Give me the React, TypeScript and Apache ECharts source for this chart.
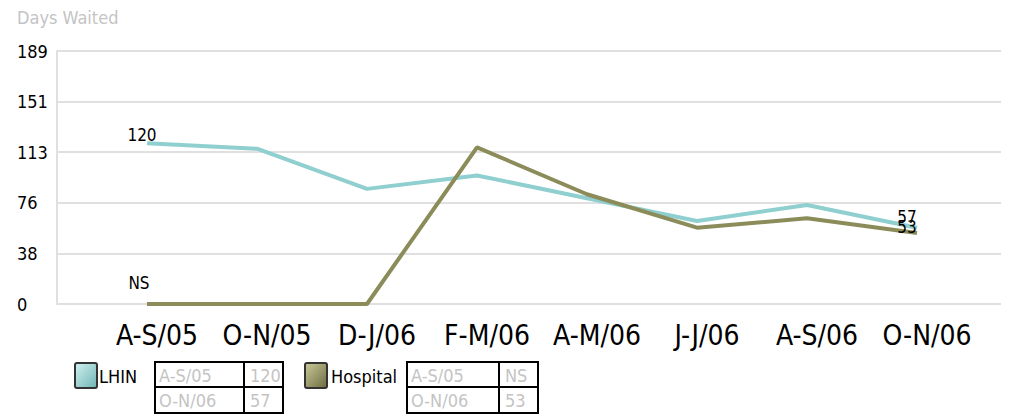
import React, { useEffect, useRef } from "react";
import * as echarts from "echarts";

const categories = ["A-S/05", "O-N/05", "D-J/06", "F-M/06", "A-M/06", "J-J/06", "A-S/06", "O-N/06"];
const lhinValues = [120, 116, 86, 96, 79, 62, 74, 57];
const hospitalValues = [0, 0, 0, 117, 82, 57, 64, 53];
const hospitalFlags = ["NS", "NS", "NS", "", "", "", "", ""];
const yTicks = [0, 38, 76, 113, 151, 189];
const yMax = 189;

const FONT = "'DejaVu Sans Condensed', 'DejaVu Sans', sans-serif";
const LHIN_COLOR = "#8fcfcf";
const HOSP_COLOR = "#8c8c5a";

function labelFor(values: number[], flags: string[] | null, i: number): string {
  if (flags && flags[i]) return flags[i];
  return String(values[i]);
}

function makeTable(x: number, cat0: string, v0: string, cat1: string, v1: string, divX: number, w: number) {
  const y = 362;
  const h = 51;
  const gray = "#c4c4c4";
  return [
    { type: "rect", shape: { x, y, width: w, height: h }, style: { fill: "none", stroke: "#000", lineWidth: 2 } },
    { type: "line", shape: { x1: divX, y1: y, x2: divX, y2: y + h }, style: { stroke: "#000", lineWidth: 2 } },
    { type: "line", shape: { x1: x, y1: y + 25, x2: x + w, y2: y + 25 }, style: { stroke: "#000", lineWidth: 2 } },
    { type: "text", x: x + 4, y: y + 13, style: { text: cat0, fill: gray, font: `18px ${FONT}`, textVerticalAlign: "middle" } },
    { type: "text", x: divX + 6, y: y + 13, style: { text: v0, fill: gray, font: `18px ${FONT}`, textVerticalAlign: "middle" } },
    { type: "text", x: x + 4, y: y + 38, style: { text: cat1, fill: gray, font: `18px ${FONT}`, textVerticalAlign: "middle" } },
    { type: "text", x: divX + 6, y: y + 38, style: { text: v1, fill: gray, font: `18px ${FONT}`, textVerticalAlign: "middle" } },
  ];
}

export default function App() {
  const ref = useRef<HTMLDivElement>(null);
  useEffect(() => {
    if (!ref.current) return;
    const chart = echarts.init(ref.current, null, { renderer: "svg" });
    const last = categories.length - 1;

    const lblStyle = { show: true, color: "#000", fontSize: 17, fontFamily: FONT };
    const lhinData = lhinValues.map((v, i) => {
      if (i === 0) return { value: v, label: { ...lblStyle, position: "top", distance: 0, offset: [-5, 0], formatter: labelFor(lhinValues, null, i) } };
      if (i === last) return { value: v, label: { ...lblStyle, position: "top", distance: 2, offset: [-10, 0], formatter: labelFor(lhinValues, null, i) } };
      return v;
    });
    const hospData = hospitalValues.map((v, i) => {
      if (i === 0) return { value: v, label: { ...lblStyle, position: "top", distance: 12, offset: [-8, 0], formatter: labelFor(hospitalValues, hospitalFlags, i) } };
      if (i === last) return { value: v, label: { ...lblStyle, position: "top", distance: 0, offset: [-10, 2], formatter: labelFor(hospitalValues, hospitalFlags, i) } };
      return v;
    });

    const option: any = {
      animation: false,
      backgroundColor: "#fff",
      textStyle: { fontFamily: FONT },
      grid: [
        { left: 57, right: 0, top: 51, bottom: 112 },
        { left: 147, right: 92, top: 51, bottom: 112 },
      ],
      xAxis: [
        { gridIndex: 0, type: "value", min: 0, max: 1, show: false },
        {
          gridIndex: 1,
          type: "category",
          boundaryGap: false,
          data: categories,
          axisLine: { show: false },
          axisTick: { show: false },
          axisLabel: { color: "#000", fontSize: 28, fontFamily: FONT, margin: 17, padding: [0, 0, 0, 20], interval: 0 },
        },
      ],
      yAxis: [
        {
          gridIndex: 0,
          type: "value",
          min: 0,
          max: yMax,
          interval: yMax / 5,
          axisLine: { show: true, lineStyle: { color: "#e0e0e0", width: 2 } },
          axisTick: { show: false },
          splitLine: { show: true, lineStyle: { color: "#e0e0e0", width: 2 } },
          axisLabel: {
            align: "left",
            margin: 40,
            color: "#000",
            fontSize: 18,
            fontFamily: FONT,
            formatter: (v: number) => {
              const r = Math.round(v);
              const idx = yTicks.indexOf(r);
              return idx >= 0 ? String(yTicks[idx]) : String(r);
            },
          },
        },
        { gridIndex: 1, type: "value", min: 0, max: yMax, show: false },
      ],
      series: [
        {
          name: "LHIN",
          type: "line",
          xAxisIndex: 1,
          yAxisIndex: 1,
          data: lhinData,
          symbol: "circle",
          symbolSize: 0.01,
          showSymbol: true,
          lineStyle: { color: LHIN_COLOR, width: 4 },
          itemStyle: { color: LHIN_COLOR },
          z: 3,
        },
        {
          name: "Hospital",
          type: "line",
          xAxisIndex: 1,
          yAxisIndex: 1,
          data: hospData,
          symbol: "circle",
          symbolSize: 0.01,
          showSymbol: true,
          lineStyle: { color: HOSP_COLOR, width: 4 },
          itemStyle: { color: HOSP_COLOR },
          z: 4,
        },
      ],
      graphic: [
        { type: "text", x: 17, y: 8, style: { text: "Days Waited", fill: "#c4c4c4", font: `18px ${FONT}` } },
        {
          type: "rect",
          shape: { x: 75, y: 363, width: 22, height: 25, r: 2 },
          style: {
            fill: new echarts.graphic.LinearGradient(0, 0, 1, 1, [
              { offset: 0, color: "#d2f2f2" },
              { offset: 1, color: "#6fb3b3" },
            ]),
            stroke: "#333",
            lineWidth: 2,
          },
        },
        { type: "text", x: 99, y: 376, style: { text: "LHIN", fill: "#000", font: `18px ${FONT}`, textVerticalAlign: "middle" } },
        ...makeTable(155, categories[0], labelFor(lhinValues, null, 0), categories[last], labelFor(lhinValues, null, last), 244, 128),
        {
          type: "rect",
          shape: { x: 305, y: 363, width: 22, height: 25, r: 2 },
          style: {
            fill: new echarts.graphic.LinearGradient(0, 0, 1, 1, [
              { offset: 0, color: "#cbcb9a" },
              { offset: 1, color: "#6b6b40" },
            ]),
            stroke: "#333",
            lineWidth: 2,
          },
        },
        { type: "text", x: 331, y: 376, style: { text: "Hospital", fill: "#000", font: `18px ${FONT}`, textVerticalAlign: "middle" } },
        ...makeTable(407, categories[0], labelFor(hospitalValues, hospitalFlags, 0), categories[last], labelFor(hospitalValues, hospitalFlags, last), 499, 131),
      ],
    };
    chart.setOption(option);
    return () => chart.dispose();
  }, []);
  return <div ref={ref} style={{ width: 1009, height: 416, marginLeft: -8, marginTop: -8 }} />;
}
